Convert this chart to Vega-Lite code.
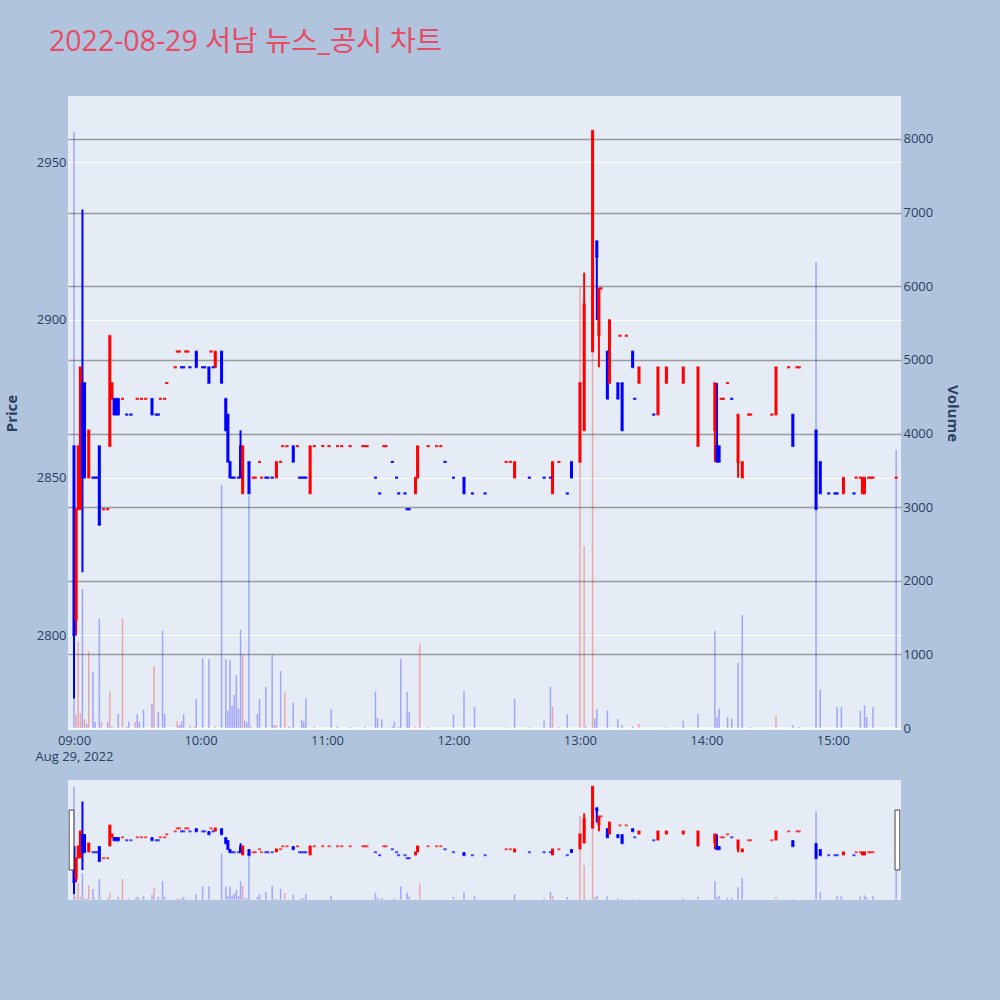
{
  "$schema": "https://vega.github.io/schema/vega-lite/v6.json",
  "background": "#B0C4DE",
  "autosize": {"type": "pad"},
  "padding": {"left": 4, "top": 28, "right": 40, "bottom": 100},
  "bounds": "flush",
  "spacing": 50,
  "title": {
    "text": "2022-08-29 서남 뉴스_공시 차트",
    "anchor": "start",
    "frame": "group",
    "font": "Open Sans, Noto Sans CJK KR",
    "fontSize": 28.5,
    "fontWeight": "normal",
    "color": "#e64c66",
    "offset": 39.5,
    "dx": -19
  },
  "config": {
    "font": "Open Sans",
    "view": {"fill": "#E5ECF6", "stroke": null},
    "axis": {
      "domain": false,
      "ticks": false,
      "labelFont": "Open Sans",
      "labelFontSize": 13,
      "labelColor": "#2a3f5f",
      "titleFont": "Open Sans",
      "titleFontSize": 15,
      "titleFontWeight": "bold",
      "titleColor": "#2a3f5f"
    }
  },
  "datasets": {
    "candles": [
      {"t":"2022-08-29T09:00","o":2860,"h":2860,"l":2780,"c":2800,"d":"down"},
      {"t":"2022-08-29T09:01","o":2805,"h":2840,"l":2800,"c":2840,"d":"up"},
      {"t":"2022-08-29T09:02","o":2840,"h":2860,"l":2840,"c":2860,"d":"up"},
      {"t":"2022-08-29T09:03","o":2840,"h":2885,"l":2840,"c":2885,"d":"up"},
      {"t":"2022-08-29T09:04","o":2880,"h":2935,"l":2820,"c":2850,"d":"down"},
      {"t":"2022-08-29T09:05","o":2880,"h":2880,"l":2850,"c":2850,"d":"down"},
      {"t":"2022-08-29T09:07","o":2850,"h":2865,"l":2850,"c":2865,"d":"up"},
      {"t":"2022-08-29T09:09","o":2850,"h":2850,"l":2850,"c":2850,"d":"down"},
      {"t":"2022-08-29T09:10","o":2850,"h":2850,"l":2850,"c":2850,"d":"down"},
      {"t":"2022-08-29T09:11","o":2850,"h":2850,"l":2850,"c":2850,"d":"down"},
      {"t":"2022-08-29T09:12","o":2860,"h":2860,"l":2835,"c":2835,"d":"down"},
      {"t":"2022-08-29T09:14","o":2840,"h":2840,"l":2840,"c":2840,"d":"up"},
      {"t":"2022-08-29T09:16","o":2840,"h":2840,"l":2840,"c":2840,"d":"up"},
      {"t":"2022-08-29T09:17","o":2860,"h":2895,"l":2860,"c":2895,"d":"up"},
      {"t":"2022-08-29T09:18","o":2875,"h":2880,"l":2875,"c":2880,"d":"up"},
      {"t":"2022-08-29T09:19","o":2875,"h":2875,"l":2870,"c":2870,"d":"down"},
      {"t":"2022-08-29T09:20","o":2875,"h":2875,"l":2870,"c":2870,"d":"down"},
      {"t":"2022-08-29T09:21","o":2875,"h":2875,"l":2870,"c":2870,"d":"down"},
      {"t":"2022-08-29T09:23","o":2875,"h":2875,"l":2875,"c":2875,"d":"up"},
      {"t":"2022-08-29T09:25","o":2870,"h":2870,"l":2870,"c":2870,"d":"down"},
      {"t":"2022-08-29T09:27","o":2870,"h":2870,"l":2870,"c":2870,"d":"down"},
      {"t":"2022-08-29T09:30","o":2875,"h":2875,"l":2875,"c":2875,"d":"up"},
      {"t":"2022-08-29T09:32","o":2875,"h":2875,"l":2875,"c":2875,"d":"up"},
      {"t":"2022-08-29T09:34","o":2875,"h":2875,"l":2875,"c":2875,"d":"up"},
      {"t":"2022-08-29T09:37","o":2875,"h":2875,"l":2870,"c":2870,"d":"down"},
      {"t":"2022-08-29T09:39","o":2870,"h":2870,"l":2870,"c":2870,"d":"down"},
      {"t":"2022-08-29T09:40","o":2870,"h":2870,"l":2870,"c":2870,"d":"down"},
      {"t":"2022-08-29T09:41","o":2875,"h":2875,"l":2875,"c":2875,"d":"up"},
      {"t":"2022-08-29T09:43","o":2875,"h":2875,"l":2875,"c":2875,"d":"up"},
      {"t":"2022-08-29T09:44","o":2880,"h":2880,"l":2880,"c":2880,"d":"up"},
      {"t":"2022-08-29T09:48","o":2885,"h":2885,"l":2885,"c":2885,"d":"up"},
      {"t":"2022-08-29T09:49","o":2890,"h":2890,"l":2890,"c":2890,"d":"up"},
      {"t":"2022-08-29T09:50","o":2890,"h":2890,"l":2890,"c":2890,"d":"up"},
      {"t":"2022-08-29T09:51","o":2885,"h":2885,"l":2885,"c":2885,"d":"down"},
      {"t":"2022-08-29T09:52","o":2885,"h":2885,"l":2885,"c":2885,"d":"down"},
      {"t":"2022-08-29T09:53","o":2890,"h":2890,"l":2890,"c":2890,"d":"up"},
      {"t":"2022-08-29T09:54","o":2890,"h":2890,"l":2890,"c":2890,"d":"up"},
      {"t":"2022-08-29T09:55","o":2885,"h":2885,"l":2885,"c":2885,"d":"down"},
      {"t":"2022-08-29T09:58","o":2890,"h":2890,"l":2885,"c":2885,"d":"down"},
      {"t":"2022-08-29T10:01","o":2885,"h":2885,"l":2885,"c":2885,"d":"down"},
      {"t":"2022-08-29T10:02","o":2885,"h":2885,"l":2885,"c":2885,"d":"down"},
      {"t":"2022-08-29T10:04","o":2885,"h":2885,"l":2880,"c":2880,"d":"down"},
      {"t":"2022-08-29T10:05","o":2890,"h":2890,"l":2890,"c":2890,"d":"up"},
      {"t":"2022-08-29T10:06","o":2885,"h":2885,"l":2885,"c":2885,"d":"down"},
      {"t":"2022-08-29T10:07","o":2885,"h":2890,"l":2885,"c":2890,"d":"up"},
      {"t":"2022-08-29T10:10","o":2890,"h":2890,"l":2880,"c":2880,"d":"down"},
      {"t":"2022-08-29T10:12","o":2875,"h":2875,"l":2865,"c":2865,"d":"down"},
      {"t":"2022-08-29T10:13","o":2870,"h":2870,"l":2855,"c":2855,"d":"down"},
      {"t":"2022-08-29T10:14","o":2855,"h":2855,"l":2850,"c":2850,"d":"down"},
      {"t":"2022-08-29T10:15","o":2850,"h":2850,"l":2850,"c":2850,"d":"down"},
      {"t":"2022-08-29T10:16","o":2850,"h":2850,"l":2850,"c":2850,"d":"down"},
      {"t":"2022-08-29T10:18","o":2850,"h":2850,"l":2850,"c":2850,"d":"down"},
      {"t":"2022-08-29T10:19","o":2860,"h":2865,"l":2850,"c":2850,"d":"down"},
      {"t":"2022-08-29T10:20","o":2845,"h":2860,"l":2845,"c":2860,"d":"up"},
      {"t":"2022-08-29T10:23","o":2855,"h":2855,"l":2845,"c":2845,"d":"down"},
      {"t":"2022-08-29T10:25","o":2850,"h":2850,"l":2850,"c":2850,"d":"up"},
      {"t":"2022-08-29T10:26","o":2850,"h":2850,"l":2850,"c":2850,"d":"up"},
      {"t":"2022-08-29T10:28","o":2855,"h":2855,"l":2855,"c":2855,"d":"up"},
      {"t":"2022-08-29T10:29","o":2850,"h":2850,"l":2850,"c":2850,"d":"up"},
      {"t":"2022-08-29T10:31","o":2850,"h":2850,"l":2850,"c":2850,"d":"down"},
      {"t":"2022-08-29T10:32","o":2850,"h":2850,"l":2850,"c":2850,"d":"down"},
      {"t":"2022-08-29T10:34","o":2850,"h":2850,"l":2850,"c":2850,"d":"down"},
      {"t":"2022-08-29T10:36","o":2850,"h":2855,"l":2850,"c":2855,"d":"up"},
      {"t":"2022-08-29T10:38","o":2855,"h":2855,"l":2855,"c":2855,"d":"up"},
      {"t":"2022-08-29T10:39","o":2860,"h":2860,"l":2860,"c":2860,"d":"up"},
      {"t":"2022-08-29T10:41","o":2860,"h":2860,"l":2860,"c":2860,"d":"up"},
      {"t":"2022-08-29T10:44","o":2860,"h":2860,"l":2855,"c":2855,"d":"down"},
      {"t":"2022-08-29T10:46","o":2860,"h":2860,"l":2860,"c":2860,"d":"up"},
      {"t":"2022-08-29T10:47","o":2850,"h":2850,"l":2850,"c":2850,"d":"down"},
      {"t":"2022-08-29T10:48","o":2850,"h":2850,"l":2850,"c":2850,"d":"down"},
      {"t":"2022-08-29T10:49","o":2850,"h":2850,"l":2850,"c":2850,"d":"down"},
      {"t":"2022-08-29T10:50","o":2850,"h":2850,"l":2850,"c":2850,"d":"down"},
      {"t":"2022-08-29T10:52","o":2845,"h":2860,"l":2845,"c":2860,"d":"up"},
      {"t":"2022-08-29T10:54","o":2860,"h":2860,"l":2860,"c":2860,"d":"up"},
      {"t":"2022-08-29T10:58","o":2860,"h":2860,"l":2860,"c":2860,"d":"up"},
      {"t":"2022-08-29T11:01","o":2860,"h":2860,"l":2860,"c":2860,"d":"up"},
      {"t":"2022-08-29T11:05","o":2860,"h":2860,"l":2860,"c":2860,"d":"up"},
      {"t":"2022-08-29T11:07","o":2860,"h":2860,"l":2860,"c":2860,"d":"up"},
      {"t":"2022-08-29T11:11","o":2860,"h":2860,"l":2860,"c":2860,"d":"up"},
      {"t":"2022-08-29T11:17","o":2860,"h":2860,"l":2860,"c":2860,"d":"up"},
      {"t":"2022-08-29T11:18","o":2860,"h":2860,"l":2860,"c":2860,"d":"up"},
      {"t":"2022-08-29T11:19","o":2860,"h":2860,"l":2860,"c":2860,"d":"up"},
      {"t":"2022-08-29T11:23","o":2850,"h":2850,"l":2850,"c":2850,"d":"down"},
      {"t":"2022-08-29T11:25","o":2845,"h":2845,"l":2845,"c":2845,"d":"down"},
      {"t":"2022-08-29T11:27","o":2860,"h":2860,"l":2860,"c":2860,"d":"up"},
      {"t":"2022-08-29T11:28","o":2860,"h":2860,"l":2860,"c":2860,"d":"up"},
      {"t":"2022-08-29T11:31","o":2855,"h":2855,"l":2855,"c":2855,"d":"down"},
      {"t":"2022-08-29T11:33","o":2850,"h":2850,"l":2850,"c":2850,"d":"down"},
      {"t":"2022-08-29T11:34","o":2845,"h":2845,"l":2845,"c":2845,"d":"down"},
      {"t":"2022-08-29T11:37","o":2845,"h":2845,"l":2845,"c":2845,"d":"down"},
      {"t":"2022-08-29T11:38","o":2840,"h":2840,"l":2840,"c":2840,"d":"down"},
      {"t":"2022-08-29T11:39","o":2840,"h":2840,"l":2840,"c":2840,"d":"down"},
      {"t":"2022-08-29T11:42","o":2845,"h":2850,"l":2845,"c":2850,"d":"up"},
      {"t":"2022-08-29T11:43","o":2850,"h":2860,"l":2850,"c":2860,"d":"up"},
      {"t":"2022-08-29T11:48","o":2860,"h":2860,"l":2860,"c":2860,"d":"up"},
      {"t":"2022-08-29T11:52","o":2860,"h":2860,"l":2860,"c":2860,"d":"up"},
      {"t":"2022-08-29T11:54","o":2860,"h":2860,"l":2860,"c":2860,"d":"up"},
      {"t":"2022-08-29T11:56","o":2855,"h":2855,"l":2855,"c":2855,"d":"down"},
      {"t":"2022-08-29T12:00","o":2850,"h":2850,"l":2850,"c":2850,"d":"down"},
      {"t":"2022-08-29T12:05","o":2850,"h":2850,"l":2845,"c":2845,"d":"down"},
      {"t":"2022-08-29T12:09","o":2845,"h":2845,"l":2845,"c":2845,"d":"down"},
      {"t":"2022-08-29T12:15","o":2845,"h":2845,"l":2845,"c":2845,"d":"down"},
      {"t":"2022-08-29T12:25","o":2855,"h":2855,"l":2855,"c":2855,"d":"up"},
      {"t":"2022-08-29T12:27","o":2855,"h":2855,"l":2855,"c":2855,"d":"up"},
      {"t":"2022-08-29T12:29","o":2850,"h":2855,"l":2850,"c":2855,"d":"up"},
      {"t":"2022-08-29T12:36","o":2850,"h":2850,"l":2850,"c":2850,"d":"down"},
      {"t":"2022-08-29T12:43","o":2850,"h":2850,"l":2850,"c":2850,"d":"down"},
      {"t":"2022-08-29T12:46","o":2850,"h":2850,"l":2850,"c":2850,"d":"down"},
      {"t":"2022-08-29T12:47","o":2845,"h":2855,"l":2845,"c":2855,"d":"up"},
      {"t":"2022-08-29T12:50","o":2855,"h":2855,"l":2855,"c":2855,"d":"up"},
      {"t":"2022-08-29T12:54","o":2845,"h":2845,"l":2845,"c":2845,"d":"down"},
      {"t":"2022-08-29T12:56","o":2855,"h":2855,"l":2850,"c":2850,"d":"down"},
      {"t":"2022-08-29T13:00","o":2855,"h":2880,"l":2855,"c":2880,"d":"up"},
      {"t":"2022-08-29T13:02","o":2865,"h":2915,"l":2865,"c":2905,"d":"up"},
      {"t":"2022-08-29T13:06","o":2890,"h":2960,"l":2890,"c":2960,"d":"up"},
      {"t":"2022-08-29T13:08","o":2925,"h":2925,"l":2900,"c":2920,"d":"down"},
      {"t":"2022-08-29T13:09","o":2895,"h":2910,"l":2885,"c":2910,"d":"up"},
      {"t":"2022-08-29T13:10","o":2910,"h":2910,"l":2910,"c":2910,"d":"up"},
      {"t":"2022-08-29T13:13","o":2890,"h":2890,"l":2875,"c":2875,"d":"down"},
      {"t":"2022-08-29T13:14","o":2880,"h":2900,"l":2880,"c":2900,"d":"up"},
      {"t":"2022-08-29T13:18","o":2880,"h":2880,"l":2875,"c":2875,"d":"down"},
      {"t":"2022-08-29T13:19","o":2895,"h":2895,"l":2895,"c":2895,"d":"up"},
      {"t":"2022-08-29T13:20","o":2880,"h":2880,"l":2865,"c":2865,"d":"down"},
      {"t":"2022-08-29T13:22","o":2895,"h":2895,"l":2895,"c":2895,"d":"up"},
      {"t":"2022-08-29T13:25","o":2890,"h":2890,"l":2885,"c":2885,"d":"down"},
      {"t":"2022-08-29T13:26","o":2875,"h":2875,"l":2875,"c":2875,"d":"down"},
      {"t":"2022-08-29T13:28","o":2880,"h":2885,"l":2880,"c":2885,"d":"up"},
      {"t":"2022-08-29T13:35","o":2870,"h":2870,"l":2870,"c":2870,"d":"down"},
      {"t":"2022-08-29T13:37","o":2870,"h":2885,"l":2870,"c":2885,"d":"up"},
      {"t":"2022-08-29T13:41","o":2880,"h":2885,"l":2880,"c":2885,"d":"up"},
      {"t":"2022-08-29T13:49","o":2880,"h":2885,"l":2880,"c":2885,"d":"up"},
      {"t":"2022-08-29T13:56","o":2860,"h":2885,"l":2860,"c":2885,"d":"up"},
      {"t":"2022-08-29T14:04","o":2865,"h":2880,"l":2855,"c":2880,"d":"up"},
      {"t":"2022-08-29T14:05","o":2860,"h":2880,"l":2855,"c":2855,"d":"down"},
      {"t":"2022-08-29T14:06","o":2860,"h":2860,"l":2855,"c":2855,"d":"down"},
      {"t":"2022-08-29T14:07","o":2875,"h":2875,"l":2875,"c":2875,"d":"up"},
      {"t":"2022-08-29T14:08","o":2875,"h":2875,"l":2875,"c":2875,"d":"up"},
      {"t":"2022-08-29T14:10","o":2880,"h":2880,"l":2880,"c":2880,"d":"up"},
      {"t":"2022-08-29T14:12","o":2875,"h":2875,"l":2875,"c":2875,"d":"down"},
      {"t":"2022-08-29T14:15","o":2855,"h":2870,"l":2850,"c":2870,"d":"up"},
      {"t":"2022-08-29T14:17","o":2850,"h":2855,"l":2850,"c":2855,"d":"up"},
      {"t":"2022-08-29T14:20","o":2870,"h":2870,"l":2870,"c":2870,"d":"up"},
      {"t":"2022-08-29T14:21","o":2870,"h":2870,"l":2870,"c":2870,"d":"up"},
      {"t":"2022-08-29T14:31","o":2870,"h":2870,"l":2870,"c":2870,"d":"up"},
      {"t":"2022-08-29T14:33","o":2870,"h":2885,"l":2870,"c":2885,"d":"up"},
      {"t":"2022-08-29T14:39","o":2885,"h":2885,"l":2885,"c":2885,"d":"up"},
      {"t":"2022-08-29T14:41","o":2870,"h":2870,"l":2860,"c":2860,"d":"down"},
      {"t":"2022-08-29T14:43","o":2885,"h":2885,"l":2885,"c":2885,"d":"up"},
      {"t":"2022-08-29T14:44","o":2885,"h":2885,"l":2885,"c":2885,"d":"up"},
      {"t":"2022-08-29T14:52","o":2865,"h":2865,"l":2840,"c":2840,"d":"down"},
      {"t":"2022-08-29T14:54","o":2855,"h":2855,"l":2845,"c":2845,"d":"down"},
      {"t":"2022-08-29T14:58","o":2845,"h":2845,"l":2845,"c":2845,"d":"down"},
      {"t":"2022-08-29T15:01","o":2845,"h":2845,"l":2845,"c":2845,"d":"down"},
      {"t":"2022-08-29T15:02","o":2845,"h":2845,"l":2845,"c":2845,"d":"down"},
      {"t":"2022-08-29T15:05","o":2845,"h":2850,"l":2845,"c":2850,"d":"up"},
      {"t":"2022-08-29T15:10","o":2845,"h":2845,"l":2845,"c":2845,"d":"down"},
      {"t":"2022-08-29T15:11","o":2850,"h":2850,"l":2850,"c":2850,"d":"up"},
      {"t":"2022-08-29T15:13","o":2850,"h":2850,"l":2850,"c":2850,"d":"up"},
      {"t":"2022-08-29T15:14","o":2845,"h":2850,"l":2845,"c":2850,"d":"up"},
      {"t":"2022-08-29T15:15","o":2845,"h":2850,"l":2845,"c":2850,"d":"up"},
      {"t":"2022-08-29T15:17","o":2850,"h":2850,"l":2850,"c":2850,"d":"up"},
      {"t":"2022-08-29T15:18","o":2850,"h":2850,"l":2850,"c":2850,"d":"up"},
      {"t":"2022-08-29T15:19","o":2850,"h":2850,"l":2850,"c":2850,"d":"up"},
      {"t":"2022-08-29T15:30","o":2850,"h":2850,"l":2850,"c":2850,"d":"up"}
    ],
    "vols": [
      {"t":"2022-08-29T09:00","v":8100,"d":"down"},
      {"t":"2022-08-29T09:01","v":180,"d":"up"},
      {"t":"2022-08-29T09:02","v":1170,"d":"up"},
      {"t":"2022-08-29T09:03","v":200,"d":"up"},
      {"t":"2022-08-29T09:04","v":1890,"d":"down"},
      {"t":"2022-08-29T09:05","v":120,"d":"up"},
      {"t":"2022-08-29T09:06","v":60,"d":"down"},
      {"t":"2022-08-29T09:07","v":1040,"d":"up"},
      {"t":"2022-08-29T09:09","v":765,"d":"down"},
      {"t":"2022-08-29T09:10","v":86,"d":"down"},
      {"t":"2022-08-29T09:12","v":1485,"d":"down"},
      {"t":"2022-08-29T09:13","v":86,"d":"up"},
      {"t":"2022-08-29T09:16","v":86,"d":"down"},
      {"t":"2022-08-29T09:17","v":494,"d":"up"},
      {"t":"2022-08-29T09:18","v":18,"d":"down"},
      {"t":"2022-08-29T09:21","v":190,"d":"down"},
      {"t":"2022-08-29T09:23","v":1485,"d":"up"},
      {"t":"2022-08-29T09:25","v":20,"d":"down"},
      {"t":"2022-08-29T09:26","v":86,"d":"down"},
      {"t":"2022-08-29T09:29","v":86,"d":"up"},
      {"t":"2022-08-29T09:30","v":186,"d":"down"},
      {"t":"2022-08-29T09:31","v":86,"d":"down"},
      {"t":"2022-08-29T09:33","v":245,"d":"down"},
      {"t":"2022-08-29T09:37","v":326,"d":"down"},
      {"t":"2022-08-29T09:38","v":842,"d":"up"},
      {"t":"2022-08-29T09:40","v":222,"d":"down"},
      {"t":"2022-08-29T09:42","v":1322,"d":"down"},
      {"t":"2022-08-29T09:43","v":190,"d":"down"},
      {"t":"2022-08-29T09:49","v":95,"d":"up"},
      {"t":"2022-08-29T09:50","v":41,"d":"down"},
      {"t":"2022-08-29T09:51","v":86,"d":"down"},
      {"t":"2022-08-29T09:52","v":186,"d":"down"},
      {"t":"2022-08-29T09:55","v":20,"d":"down"},
      {"t":"2022-08-29T09:57","v":20,"d":"up"},
      {"t":"2022-08-29T09:58","v":390,"d":"down"},
      {"t":"2022-08-29T10:01","v":946,"d":"down"},
      {"t":"2022-08-29T10:04","v":933,"d":"down"},
      {"t":"2022-08-29T10:07","v":20,"d":"up"},
      {"t":"2022-08-29T10:10","v":3300,"d":"down"},
      {"t":"2022-08-29T10:12","v":933,"d":"down"},
      {"t":"2022-08-29T10:13","v":236,"d":"down"},
      {"t":"2022-08-29T10:14","v":924,"d":"down"},
      {"t":"2022-08-29T10:15","v":303,"d":"down"},
      {"t":"2022-08-29T10:16","v":448,"d":"down"},
      {"t":"2022-08-29T10:17","v":716,"d":"down"},
      {"t":"2022-08-29T10:18","v":258,"d":"down"},
      {"t":"2022-08-29T10:19","v":1331,"d":"down"},
      {"t":"2022-08-29T10:20","v":992,"d":"up"},
      {"t":"2022-08-29T10:21","v":95,"d":"down"},
      {"t":"2022-08-29T10:22","v":72,"d":"down"},
      {"t":"2022-08-29T10:23","v":3160,"d":"down"},
      {"t":"2022-08-29T10:24","v":20,"d":"up"},
      {"t":"2022-08-29T10:27","v":190,"d":"down"},
      {"t":"2022-08-29T10:28","v":390,"d":"down"},
      {"t":"2022-08-29T10:31","v":562,"d":"down"},
      {"t":"2022-08-29T10:34","v":992,"d":"down"},
      {"t":"2022-08-29T10:35","v":41,"d":"down"},
      {"t":"2022-08-29T10:36","v":41,"d":"up"},
      {"t":"2022-08-29T10:38","v":774,"d":"down"},
      {"t":"2022-08-29T10:40","v":484,"d":"up"},
      {"t":"2022-08-29T10:42","v":20,"d":"down"},
      {"t":"2022-08-29T10:44","v":344,"d":"down"},
      {"t":"2022-08-29T10:48","v":109,"d":"down"},
      {"t":"2022-08-29T10:49","v":86,"d":"down"},
      {"t":"2022-08-29T10:50","v":403,"d":"down"},
      {"t":"2022-08-29T10:54","v":20,"d":"up"},
      {"t":"2022-08-29T11:02","v":255,"d":"down"},
      {"t":"2022-08-29T11:05","v":20,"d":"down"},
      {"t":"2022-08-29T11:11","v":15,"d":"down"},
      {"t":"2022-08-29T11:18","v":15,"d":"down"},
      {"t":"2022-08-29T11:23","v":494,"d":"down"},
      {"t":"2022-08-29T11:24","v":140,"d":"down"},
      {"t":"2022-08-29T11:26","v":118,"d":"down"},
      {"t":"2022-08-29T11:31","v":20,"d":"down"},
      {"t":"2022-08-29T11:32","v":86,"d":"down"},
      {"t":"2022-08-29T11:34","v":15,"d":"down"},
      {"t":"2022-08-29T11:35","v":937,"d":"down"},
      {"t":"2022-08-29T11:38","v":490,"d":"down"},
      {"t":"2022-08-29T11:39","v":213,"d":"down"},
      {"t":"2022-08-29T11:42","v":20,"d":"up"},
      {"t":"2022-08-29T11:44","v":1146,"d":"up"},
      {"t":"2022-08-29T11:48","v":10,"d":"down"},
      {"t":"2022-08-29T12:00","v":186,"d":"down"},
      {"t":"2022-08-29T12:05","v":503,"d":"down"},
      {"t":"2022-08-29T12:10","v":285,"d":"down"},
      {"t":"2022-08-29T12:25","v":10,"d":"up"},
      {"t":"2022-08-29T12:29","v":399,"d":"down"},
      {"t":"2022-08-29T12:36","v":10,"d":"down"},
      {"t":"2022-08-29T12:43","v":100,"d":"down"},
      {"t":"2022-08-29T12:46","v":562,"d":"down"},
      {"t":"2022-08-29T12:47","v":290,"d":"up"},
      {"t":"2022-08-29T12:50","v":10,"d":"down"},
      {"t":"2022-08-29T12:54","v":186,"d":"down"},
      {"t":"2022-08-29T13:00","v":5995,"d":"up"},
      {"t":"2022-08-29T13:02","v":2473,"d":"up"},
      {"t":"2022-08-29T13:03","v":20,"d":"down"},
      {"t":"2022-08-29T13:06","v":5500,"d":"up"},
      {"t":"2022-08-29T13:07","v":131,"d":"down"},
      {"t":"2022-08-29T13:08","v":258,"d":"down"},
      {"t":"2022-08-29T13:13","v":236,"d":"down"},
      {"t":"2022-08-29T13:18","v":122,"d":"down"},
      {"t":"2022-08-29T13:20","v":41,"d":"down"},
      {"t":"2022-08-29T13:25","v":20,"d":"down"},
      {"t":"2022-08-29T13:28","v":54,"d":"up"},
      {"t":"2022-08-29T13:41","v":10,"d":"down"},
      {"t":"2022-08-29T13:49","v":100,"d":"down"},
      {"t":"2022-08-29T13:56","v":190,"d":"down"},
      {"t":"2022-08-29T14:04","v":1318,"d":"down"},
      {"t":"2022-08-29T14:05","v":145,"d":"down"},
      {"t":"2022-08-29T14:06","v":263,"d":"down"},
      {"t":"2022-08-29T14:10","v":145,"d":"down"},
      {"t":"2022-08-29T14:12","v":131,"d":"down"},
      {"t":"2022-08-29T14:15","v":888,"d":"down"},
      {"t":"2022-08-29T14:17","v":1535,"d":"down"},
      {"t":"2022-08-29T14:21","v":10,"d":"down"},
      {"t":"2022-08-29T14:33","v":168,"d":"up"},
      {"t":"2022-08-29T14:41","v":36,"d":"down"},
      {"t":"2022-08-29T14:44","v":10,"d":"down"},
      {"t":"2022-08-29T14:52","v":6330,"d":"down"},
      {"t":"2022-08-29T14:54","v":516,"d":"down"},
      {"t":"2022-08-29T15:02","v":285,"d":"down"},
      {"t":"2022-08-29T15:04","v":285,"d":"down"},
      {"t":"2022-08-29T15:13","v":231,"d":"down"},
      {"t":"2022-08-29T15:15","v":308,"d":"down"},
      {"t":"2022-08-29T15:16","v":149,"d":"down"},
      {"t":"2022-08-29T15:19","v":281,"d":"down"},
      {"t":"2022-08-29T15:30","v":3780,"d":"down"}
    ],
    "handles": [
      {"t":"2022-08-29T08:58:49"},
      {"t":"2022-08-29T15:30:36"}
    ]
  },
  "vconcat": [
    {
      "width": 833,
      "height": 634,
      "encoding": {
        "x": {
          "field": "t",
          "type": "temporal",
          "scale": {"nice": false, "padding": 0, "domain": [
            {"year":2022,"month":8,"date":29,"hours":8,"minutes":57,"seconds":9},
            {"year":2022,"month":8,"date":29,"hours":15,"minutes":32,"seconds":18}
          ]},
          "axis": {
            "title": "Aug 29, 2022",
            "titleFontWeight": "normal",
            "titleFontSize": 13,
            "titleColor": "#2a3f5f",
            "titleX": 6,
            "titleY": 20,
            "titleAlign": "center",
            "titleBaseline": "top",
            "grid": false,
            "values": [
              {"year":2022,"month":8,"date":29,"hours":9},
              {"year":2022,"month":8,"date":29,"hours":10},
              {"year":2022,"month":8,"date":29,"hours":11},
              {"year":2022,"month":8,"date":29,"hours":12},
              {"year":2022,"month":8,"date":29,"hours":13},
              {"year":2022,"month":8,"date":29,"hours":14},
              {"year":2022,"month":8,"date":29,"hours":15}
            ],
            "format": "%H:%M",
            "labelPadding": 4,
            "labelFlush": false,
            "labelOverlap": false
          }
        }
      },
      "layer": [
        {
          "data": {"name": "vols"},
          "mark": {"type": "bar", "size": 1.5, "opacity": 0.3},
          "encoding": {
            "y": {
              "field": "v",
              "type": "quantitative",
              "scale": {"domain": [-27, 8584], "nice": false, "zero": false},
              "axis": {
                "orient": "right",
                "title": "Volume",
                "format": "d",
                "values": [0,1000,2000,3000,4000,5000,6000,7000,8000],
                "grid": true,
                "gridColor": {"condition": {"test": "datum.value === 0", "value": "#ffffff"}, "value": "#9a9a9a"},
                "gridWidth": {"condition": {"test": "datum.value === 0", "value": 2}, "value": 1.3},
                "labelPadding": 2,
                "minExtent": 40,
                "maxExtent": 40,
                "titlePadding": 3.5
              }
            },
            "color": {"field": "d", "type": "nominal", "scale": {"domain": ["up","down"], "range": ["#ff0000","#0000ff"]}, "legend": null}
          }
        },
        {
          "data": {"name": "candles"},
          "encoding": {
            "y": {
              "type": "quantitative",
              "scale": {"domain": [2770, 2971], "nice": false, "zero": false},
              "axis": {
                "orient": "left",
                "title": "Price",
                "format": "d",
                "values": [2800, 2850, 2900, 2950],
                "grid": true,
                "gridColor": "#ffffff",
                "gridWidth": 1,
                "labelPadding": 2,
                "minExtent": 45,
                "maxExtent": 45,
                "titlePadding": 4
              }
            },
            "color": {"field": "d", "type": "nominal", "scale": {"domain": ["up","down"], "range": ["#ff0000","#0000ff"]}, "legend": null}
          },
          "layer": [
            {
              "mark": {"type": "rule", "strokeWidth": 2},
              "encoding": {"y": {"field": "l", "type": "quantitative"}, "y2": {"field": "h"}}
            },
            {
              "mark": {"type": "bar", "size": 3},
              "encoding": {"y": {"field": "o", "type": "quantitative"}, "y2": {"field": "c"}}
            },
            {
              "mark": {"type": "tick", "orient": "horizontal", "size": 3, "thickness": 2},
              "encoding": {"y": {"field": "o", "type": "quantitative"}}
            },
            {
              "mark": {"type": "tick", "orient": "horizontal", "size": 3, "thickness": 2},
              "encoding": {"y": {"field": "c", "type": "quantitative"}}
            }
          ]
        }
      ],
      "resolve": {"scale": {"y": "independent"}, "axis": {"y": "independent"}}
    },
    {
      "width": 833,
      "height": 120,
      "encoding": {
        "x": {
          "field": "t",
          "type": "temporal",
          "scale": {"nice": false, "padding": 0, "domain": [
            {"year":2022,"month":8,"date":29,"hours":8,"minutes":57,"seconds":9},
            {"year":2022,"month":8,"date":29,"hours":15,"minutes":32,"seconds":18}
          ]},
          "axis": null
        }
      },
      "layer": [
        {
          "data": {"name": "vols"},
          "mark": {"type": "bar", "size": 1.5, "opacity": 0.3},
          "encoding": {
            "y": {"field": "v", "type": "quantitative", "scale": {"domain": [-27, 8584], "nice": false, "zero": false}, "axis": null},
            "color": {"field": "d", "type": "nominal", "scale": {"domain": ["up","down"], "range": ["#ff0000","#0000ff"]}, "legend": null}
          }
        },
        {
          "data": {"name": "candles"},
          "encoding": {
            "y": {"type": "quantitative", "scale": {"domain": [2770, 2971], "nice": false, "zero": false}, "axis": null},
            "color": {"field": "d", "type": "nominal", "scale": {"domain": ["up","down"], "range": ["#ff0000","#0000ff"]}, "legend": null}
          },
          "layer": [
            {
              "mark": {"type": "rule", "strokeWidth": 2},
              "encoding": {"y": {"field": "l", "type": "quantitative"}, "y2": {"field": "h"}}
            },
            {
              "mark": {"type": "bar", "size": 3},
              "encoding": {"y": {"field": "o", "type": "quantitative"}, "y2": {"field": "c"}}
            },
            {
              "mark": {"type": "tick", "orient": "horizontal", "size": 3, "thickness": 2},
              "encoding": {"y": {"field": "c", "type": "quantitative"}}
            }
          ]
        },
        {
          "data": {"name": "handles"},
          "mark": {"type": "point", "shape": "M-0.08,-1H0.08V1H-0.08Z", "size": 3600, "filled": true, "fill": "#ffffff", "stroke": "#444444", "strokeWidth": 1, "opacity": 1}
        }
      ],
      "resolve": {"scale": {"y": "independent"}, "axis": {"y": "independent"}}
    }
  ]
}
